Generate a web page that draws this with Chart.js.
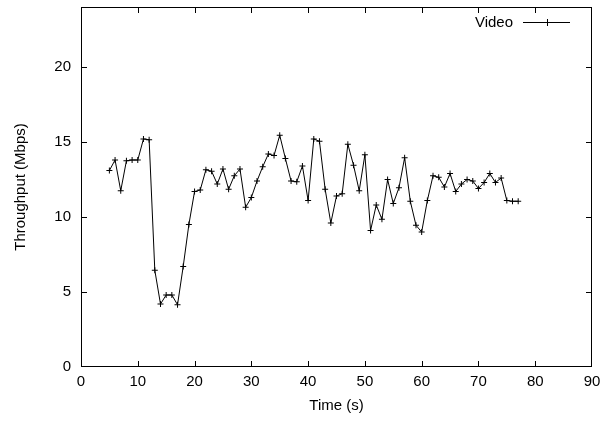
<!DOCTYPE html>
<html><head><meta charset="utf-8">
<script src="https://cdn.jsdelivr.net/npm/chart.js@4/dist/chart.umd.min.js"></script>
<style>html,body{margin:0;padding:0;background:#fff}canvas{display:block}</style>
</head><body>
<canvas id="c" width="613" height="424"></canvas>
<script>
const seriesName = 'Video';
const times = [5,6,7,8,9,10,11,12,13,14,15,16,17,18,19,20,21,22,23,24,25,26,27,28,29,30,31,32,33,34,35,36,37,38,39,40,41,42,43,44,45,46,47,48,49,50,51,52,53,54,55,56,57,58,59,60,61,62,63,64,65,66,67,68,69,70,71,72,73,74,75,76,77];
const throughput = [13.1,13.8,11.75,13.75,13.8,13.8,15.2,15.15,6.45,4.2,4.8,4.8,4.15,6.7,9.5,11.7,11.8,13.15,13.05,12.2,13.2,11.85,12.75,13.2,10.65,11.3,12.4,13.35,14.2,14.1,15.45,13.9,12.4,12.35,13.4,11.1,15.2,15.05,11.85,9.6,11.4,11.55,14.85,13.45,11.75,14.15,9.1,10.8,9.85,12.5,10.9,11.95,13.95,11.05,9.45,9.0,11.1,12.75,12.65,12.0,12.9,11.7,12.2,12.5,12.4,11.9,12.3,12.9,12.3,12.6,11.1,11.05,11.05];
const xTickValues = [0,10,20,30,40,50,60,70,80,90];
const yTickValues = [0,5,10,15,20];
const xRange = [0, 90];
const yRange = [0, 24];
const xAxisTitle = 'Time (s)';
const yAxisTitle = 'Throughput (Mbps)';

const FONT = 'Liberation Sans, Arial, Helvetica, sans-serif';
const FS = 15;

const framePlugin = {
  id: 'frame',
  afterDraw(chart) {
    const ctx = chart.ctx;
    ctx.save();
    const a = chart.chartArea;
    const xs = chart.scales.x, ys = chart.scales.y;
    const L = Math.round(a.left), R = Math.round(a.right) - 1;
    const T = Math.round(a.top), B = Math.round(a.bottom) - 1;
    ctx.fillStyle = '#000';
    ctx.fillRect(L, T, R - L + 1, 1);
    ctx.fillRect(L, B, R - L + 1, 1);
    ctx.fillRect(L, T, 1, B - T + 1);
    ctx.fillRect(R, T, 1, B - T + 1);
    const tl = 5;
    for (let i = 0; i < xTickValues.length; i++) {
      const p = Math.min(R, Math.round(xs.getPixelForValue(xTickValues[i])));
      ctx.fillRect(p, B - tl, 1, tl);
      ctx.fillRect(p, T + 1, 1, tl);
    }
    for (let i = 0; i < yTickValues.length; i++) {
      const p = Math.min(B, Math.round(ys.getPixelForValue(yTickValues[i])));
      ctx.fillRect(L + 1, p, tl, 1);
      ctx.fillRect(R - tl, p, tl, 1);
    }
    const ly = 22;
    ctx.font = FS + 'px ' + FONT;
    ctx.textAlign = 'right';
    ctx.textBaseline = 'middle';
    ctx.fillText(seriesName, 513, ly + 0.5);
    ctx.fillRect(523, ly, 47, 1);
    ctx.fillRect(547, ly - 3, 1, 7);
    ctx.restore();
  }
};

new Chart(document.getElementById('c'), {
  type: 'line',
  data: {
    datasets: [{
      label: seriesName,
      data: times.map((t, i) => ({x: t, y: throughput[i]})),
      borderColor: '#000',
      backgroundColor: '#000',
      borderWidth: 1,
      pointStyle: 'cross',
      pointRadius: 3,
      pointBorderWidth: 1,
      pointBorderColor: '#000',
      tension: 0,
      fill: false
    }]
  },
  options: {
    responsive: false,
    animation: false,
    devicePixelRatio: 1,
    layout: {padding: {left: 0, top: 7, right: 21, bottom: 0}},
    plugins: {legend: {display: false}, tooltip: {enabled: false}},
    scales: {
      x: {
        type: 'linear', min: xRange[0], max: xRange[1],
        afterBuildTicks: s => { s.ticks = xTickValues.map(v => ({value: v})); },
        afterFit: s => { s.height = 57; s.paddingLeft = 0; s.paddingRight = 0; },
        grid: {display: false, drawTicks: false},
        border: {display: false},
        ticks: {color: '#000', font: {family: FONT, size: FS}, padding: 6, maxRotation: 0, autoSkip: false},
        title: {display: true, text: xAxisTitle, color: '#000', font: {family: FONT, size: FS}, padding: {top: 0, bottom: 9}}
      },
      y: {
        type: 'linear', min: yRange[0], max: yRange[1],
        afterBuildTicks: s => { s.ticks = yTickValues.map(v => ({value: v})); },
        afterFit: s => { s.width = 81; s.paddingTop = 0; s.paddingBottom = 0; },
        grid: {display: false, drawTicks: false},
        border: {display: false},
        ticks: {color: '#000', font: {family: FONT, size: FS}, padding: 10, autoSkip: false},
        title: {display: true, text: yAxisTitle, color: '#000', font: {family: FONT, size: FS}, padding: {top: 12, bottom: 0}}
      }
    }
  },
  plugins: [framePlugin]
});
</script>
</body></html>
